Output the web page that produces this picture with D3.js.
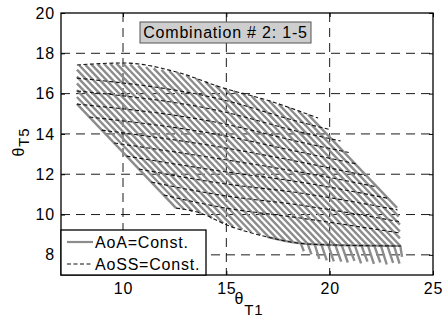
<!DOCTYPE html>
<html>
<head>
<meta charset="utf-8">
<script src="https://cdn.jsdelivr.net/npm/d3@7"></script>
<style>
  body { margin: 0; background: #fff; }
  text { font-family: "Liberation Sans", Arial, Helvetica, sans-serif; fill: #000; letter-spacing: 0.8px; }
</style>
</head>
<body>
<svg id="chart" width="448" height="322"></svg>
<script>
var titleText = "Combination # 2: 1-5";
var xTicks = [10, 15, 20, 25];
var yTicks = [8, 10, 12, 14, 16, 18, 20];
var legendLabels = ["AoA=Const.", "AoSS=Const."];

// gray lines, AoA = const (theta_T1, theta_T5)
var aoaLines = [
    [[7.77, 15.49], [12.57, 10.32]],
    [[7.77, 15.83], [12.96, 10.25]],
    [[7.77, 16.17], [13.36, 10.16]],
    [[7.77, 16.51], [13.76, 10.06]],
    [[7.77, 16.84], [14.31, 9.81]],
    [[7.77, 17.19], [14.85, 9.57]],
    [[7.87, 17.42], [15.33, 9.39]],
    [[8.17, 17.44], [15.77, 9.25]],
    [[8.47, 17.45], [16.21, 9.12]],
    [[8.77, 17.46], [16.65, 8.98]],
    [[9.08, 17.48], [17.07, 8.87]],
    [[9.38, 17.49], [17.46, 8.79]],
    [[9.68, 17.50], [17.85, 8.70]],
    [[9.98, 17.52], [18.24, 8.62]],
    [[10.35, 17.45], [18.60, 8.58], [18.75, 8.18]],
    [[10.73, 17.39], [18.93, 8.56], [19.12, 8.02]],
    [[11.11, 17.32], [19.27, 8.53], [19.50, 7.80]],
    [[11.49, 17.25], [19.60, 8.51], [19.86, 7.72]],
    [[11.86, 17.18], [19.93, 8.49], [20.20, 7.68]],
    [[12.24, 17.12], [20.28, 8.46], [20.56, 7.66]],
    [[12.62, 17.05], [20.59, 8.46], [20.88, 7.62]],
    [[13.06, 16.91], [20.91, 8.46], [21.20, 7.70]],
    [[13.53, 16.75], [21.22, 8.46], [21.52, 7.58]],
    [[14.00, 16.58], [21.54, 8.46], [21.83, 7.66]],
    [[14.47, 16.41], [21.85, 8.46], [22.14, 7.55]],
    [[14.92, 16.26], [22.16, 8.46], [22.45, 7.62]],
    [[15.35, 16.14], [22.48, 8.46], [22.76, 7.52]],
    [[15.78, 16.02], [22.79, 8.46], [23.07, 7.60]],
    [[16.21, 15.89], [23.11, 8.46], [23.38, 7.56]],
    [[16.64, 15.77], [23.42, 8.44], [23.50, 7.90]],
    [[17.06, 15.65], [23.40, 8.82]],
    [[17.53, 15.48], [23.40, 9.16]],
    [[18.01, 15.31], [23.40, 9.50]],
    [[18.48, 15.14], [23.34, 9.90]],
    [[18.96, 14.96], [23.26, 10.33]]
];

// gray lower edge of the mesh
var aoaBottom = [[16.97, 8.89], [18.42, 8.59], [20.02, 8.49], [23.45, 8.44]];

// black dashed lines, AoSS = const
var aossLines = [
    [[7.77, 17.42], [10.00, 17.52], [12.76, 17.02], [14.69, 16.33], [17.11, 15.63], [19.44, 14.79]],
    [[7.77, 16.77], [14.69, 15.73], [18.56, 14.59], [19.99, 14.22]],
    [[7.77, 16.13], [14.69, 15.14], [18.56, 14.10], [20.53, 13.65]],
    [[7.77, 15.48], [14.69, 14.54], [18.56, 13.60], [20.92, 13.08]],
    [[8.37, 14.84], [14.69, 13.95], [18.56, 13.10], [21.31, 12.51]],
    [[8.97, 14.19], [14.69, 13.35], [18.56, 12.61], [21.73, 11.94]],
    [[9.57, 13.55], [14.69, 12.76], [18.56, 12.11], [22.29, 11.37]],
    [[10.17, 12.90], [14.69, 12.16], [18.56, 11.61], [22.85, 10.80]],
    [[10.77, 12.26], [14.69, 11.56], [18.56, 11.07], [23.28, 10.23]],
    [[11.37, 11.61], [14.69, 10.97], [18.56, 10.47], [23.35, 9.65]],
    [[11.97, 10.97], [14.69, 10.37], [18.56, 9.83], [23.43, 9.08]],
    [[12.57, 10.32], [13.73, 10.08], [15.03, 9.48], [16.97, 8.89], [18.42, 8.59], [20.02, 8.49], [23.45, 8.44]]
];

function drawChart() {
    var svg = d3.select("#chart");
    var left = 61, right = 433, plotTop = 13, bottom = 275;
    var font = "'Liberation Sans', Arial, sans-serif";

    var x = d3.scaleLinear().domain([7, 25]).range([left, right]);
    var y = d3.scaleLinear().domain([7, 20]).range([bottom, plotTop]);

    /* grid (dashed, under the data) */
    var grid = svg.append("g");
    xTicks.filter(function(t) { return t < 25; }).forEach(function(t) {
        grid.append("line")
            .attr("x1", x(t)).attr("x2", x(t))
            .attr("y1", plotTop).attr("y2", bottom)
            .attr("stroke", "#000").attr("stroke-width", 0.9)
            .attr("stroke-dasharray", "9,6");
    });
    yTicks.filter(function(t) { return t < 20; }).forEach(function(t) {
        grid.append("line")
            .attr("x1", left).attr("x2", right)
            .attr("y1", y(t)).attr("y2", y(t))
            .attr("stroke", "#000").attr("stroke-width", 0.9)
            .attr("stroke-dasharray", "9,6");
    });

    var line = d3.line().x(function(d) { return x(d[0]); }).y(function(d) { return y(d[1]); });
    var curve = d3.line().curve(d3.curveMonotoneX)
        .x(function(d) { return x(d[0]); }).y(function(d) { return y(d[1]); });

    /* AoA = const, gray */
    var plot = svg.append("g");
    aoaLines.forEach(function(pts) {
        plot.append("path")
            .attr("d", line(pts))
            .attr("fill", "none")
            .attr("stroke", "#8c8c8c")
            .attr("stroke-width", 2.4);
    });
    plot.append("path")
        .attr("d", curve(aoaBottom))
        .attr("fill", "none")
        .attr("stroke", "#8c8c8c")
        .attr("stroke-width", 2.2);

    /* AoSS = const, black dashed */
    aossLines.forEach(function(pts) {
        plot.append("path")
            .attr("d", curve(pts))
            .attr("fill", "none")
            .attr("stroke", "#111")
            .attr("stroke-width", 1.1)
            .attr("stroke-dasharray", "4,2.5");
    });

    /* axes box and ticks */
    var xAxis = d3.axisBottom(x).tickValues(xTicks).tickSize(-4).tickPadding(8);
    var yAxis = d3.axisLeft(y).tickValues(yTicks).tickSize(-4).tickPadding(6);

    var gx = svg.append("g").attr("transform", "translate(0," + bottom + ")").call(xAxis);
    var gy = svg.append("g").attr("transform", "translate(" + left + ",0)").call(yAxis);
    svg.append("g").attr("transform", "translate(0," + plotTop + ")")
        .call(d3.axisTop(x).tickValues(xTicks).tickSize(-4).tickFormat(""));
    svg.append("g").attr("transform", "translate(" + right + ",0)")
        .call(d3.axisRight(y).tickValues(yTicks).tickSize(-4).tickFormat(""));
    svg.selectAll(".domain").remove();
    svg.selectAll(".tick line").attr("stroke", "#000");
    svg.selectAll(".tick text")
        .style("font-size", "16px").style("font-family", font)
        .style("letter-spacing", "0.8px").attr("fill", "#000");

    svg.append("rect")
        .attr("x", left).attr("y", plotTop)
        .attr("width", right - left).attr("height", bottom - plotTop)
        .attr("fill", "none").attr("stroke", "#000").attr("stroke-width", 1.3);

    /* axis labels */
    var xl = svg.append("text")
        .attr("x", 249).attr("y", 304)
        .attr("text-anchor", "middle")
        .style("font-size", "16px");
    xl.append("tspan").text("θ");
    xl.append("tspan").attr("dy", 11).style("font-size", "15px").text("T1");

    var yl = svg.append("text")
        .attr("transform", "translate(24,142) rotate(-90)")
        .attr("text-anchor", "middle")
        .style("font-size", "16px");
    yl.append("tspan").text("θ");
    yl.append("tspan").attr("dy", 5).style("font-size", "15px").text("T5");

    /* title box */
    svg.append("rect")
        .attr("x", 140).attr("y", 22).attr("width", 171).attr("height", 21)
        .attr("fill", "#cecece").attr("stroke", "#555").attr("stroke-width", 1);
    svg.append("text")
        .attr("x", 225.5).attr("y", 38)
        .attr("text-anchor", "middle")
        .style("font-size", "16px")
        .text(titleText);

    /* legend */
    var lg = svg.append("g");
    lg.append("rect")
        .attr("x", left).attr("y", 230).attr("width", 145).attr("height", bottom - 230)
        .attr("fill", "#fff").attr("stroke", "#000").attr("stroke-width", 1.3);
    lg.append("line")
        .attr("x1", 67).attr("x2", 93).attr("y1", 242).attr("y2", 242)
        .attr("stroke", "#8c8c8c").attr("stroke-width", 2.2);
    lg.append("line")
        .attr("x1", 67).attr("x2", 93).attr("y1", 264).attr("y2", 264)
        .attr("stroke", "#111").attr("stroke-width", 1.1).attr("stroke-dasharray", "4,2.5");
    lg.selectAll("text.lab").data(legendLabels).enter().append("text")
        .attr("class", "lab")
        .attr("x", 95)
        .attr("y", function(d, i) { return 248 + i * 22; })
        .style("font-size", "16px")
        .text(function(d) { return d; });
}

drawChart();
</script>
</body>
</html>
